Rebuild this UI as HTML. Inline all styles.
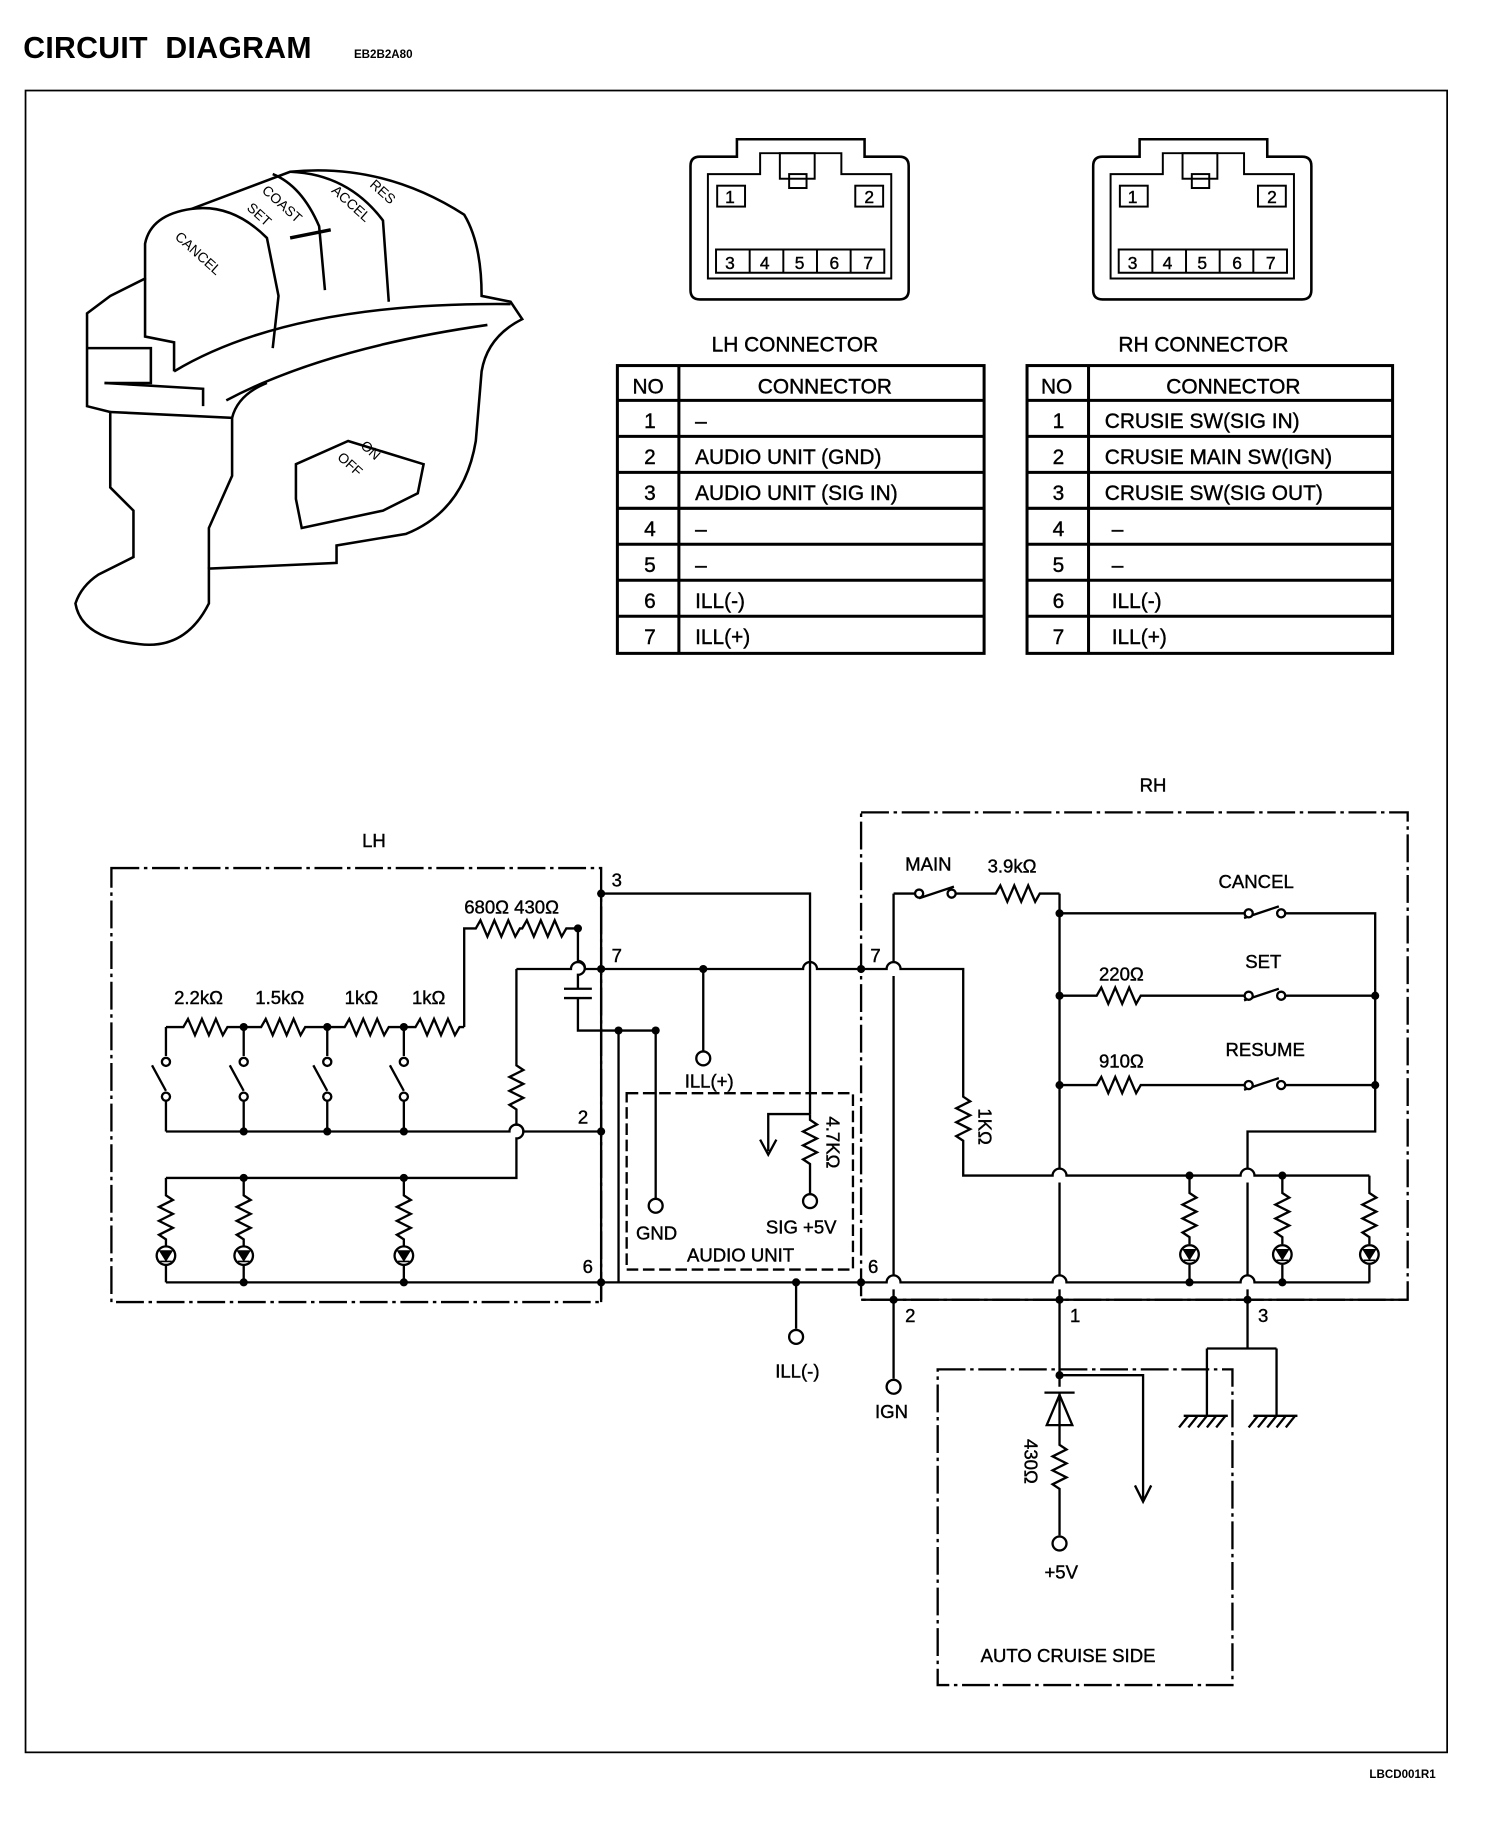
<!DOCTYPE html>
<html><head><meta charset="utf-8"><style>
html,body{margin:0;padding:0;background:#fff}
svg{display:block}
text{font-family:"Liberation Sans",Arial,sans-serif;fill:#000}
.t text{stroke:#000;stroke-width:0.35}
</style></head><body>
<svg width="1504" height="1822" viewBox="0 0 1296 1570" xmlns="http://www.w3.org/2000/svg">
<rect width="1300" height="1575" fill="#fff"/>
<text x="20" y="50" font-size="26" font-weight="bold" xml:space="preserve" letter-spacing="0.3">CIRCUIT  DIAGRAM</text>
<text x="305" y="50" font-size="10" font-weight="bold">EB2B2A80</text>
<text x="1180" y="1532" font-size="10" font-weight="bold">LBCD001R1</text>
<rect x="22" y="78" width="1225" height="1432" fill="none" stroke="#000" stroke-width="1.5"/>

<g fill="none" stroke="#000" stroke-width="2.2">
<g id="conn">
<path d="M603,135 H635 V120 H745 V135 H775 Q783,135 783,143 V250 Q783,258 775,258 H603 Q595,258 595,250 V143 Q595,135 603,135 Z"/>
<path d="M610,150 H655 V132 H725 V150 H768 V240 H610 Z" stroke-width="1.7"/>
<rect x="672" y="132" width="30" height="22" stroke-width="1.7"/>
<rect x="680" y="150" width="15" height="12" stroke-width="1.7"/>
<rect x="618" y="160" width="24" height="18" stroke-width="1.7"/>
<rect x="737" y="160" width="24" height="18" stroke-width="1.7"/>
<path d="M617,215 H762 V235 H617 Z M646,215 V235 M675,215 V235 M704,215 V235 M733,215 V235" stroke-width="1.7"/>
</g>
<use href="#conn" x="347"/>
</g>
<g font-size="15" text-anchor="middle" class="t">
<text x="629" y="175">1</text><text x="749" y="175">2</text>
<text x="629" y="232">3</text><text x="659" y="232">4</text><text x="689" y="232">5</text><text x="719" y="232">6</text><text x="748" y="232">7</text>
<text x="976" y="175">1</text><text x="1096" y="175">2</text>
<text x="976" y="232">3</text><text x="1006" y="232">4</text><text x="1036" y="232">5</text><text x="1066" y="232">6</text><text x="1095" y="232">7</text>
</g>

<g font-size="18" text-anchor="middle" class="t">
<text x="685" y="303">LH CONNECTOR</text>
<text x="1037" y="303">RH CONNECTOR</text>
</g>
<g fill="none" stroke="#000" stroke-width="2.6">
<rect x="532" y="315" width="316" height="248"/>
<path d="M585,315 V563 M532,345 H848 M532,376 H848 M532,407 H848 M532,438 H848 M532,469 H848 M532,500 H848 M532,531 H848"/>
<rect x="885" y="315" width="315" height="248"/>
<path d="M938,315 V563 M885,345 H1200 M885,376 H1200 M885,407 H1200 M885,438 H1200 M885,469 H1200 M885,500 H1200 M885,531 H1200"/>
</g>
<g font-size="18" class="t">
<text x="545" y="339">NO</text><text x="653" y="339">CONNECTOR</text>
<text x="555" y="369">1</text><text x="599" y="369">–</text>
<text x="555" y="400">2</text><text x="599" y="400">AUDIO UNIT (GND)</text>
<text x="555" y="431">3</text><text x="599" y="431">AUDIO UNIT (SIG IN)</text>
<text x="555" y="462">4</text><text x="599" y="462">–</text>
<text x="555" y="493">5</text><text x="599" y="493">–</text>
<text x="555" y="524">6</text><text x="599" y="524">ILL(-)</text>
<text x="555" y="555">7</text><text x="599" y="555">ILL(+)</text>
<text x="897" y="339">NO</text><text x="1005" y="339">CONNECTOR</text>
<text x="907" y="369">1</text><text x="952" y="369">CRUSIE SW(SIG IN)</text>
<text x="907" y="400">2</text><text x="952" y="400">CRUSIE MAIN SW(IGN)</text>
<text x="907" y="431">3</text><text x="952" y="431">CRUSIE SW(SIG OUT)</text>
<text x="907" y="462">4</text><text x="958" y="462">–</text>
<text x="907" y="493">5</text><text x="958" y="493">–</text>
<text x="907" y="524">6</text><text x="958" y="524">ILL(-)</text>
<text x="907" y="555">7</text><text x="958" y="555">ILL(+)</text>
</g>

<g fill="none" stroke="#000" stroke-width="2.2">
<path d="M125,210 Q130,185 165,180 L250,148 Q330,140 400,185 Q415,210 415,255 L440,260 L450,275 Q420,290 415,320 L410,380 Q400,440 350,460 L290,470 L290,485 L180,490 L180,520 Q160,560 120,555 Q70,550 65,520 Q70,505 85,495 L115,480 L115,440 L95,420 L95,355 L75,350 L75,270 L95,255 L125,240 Z"/>
<path d="M165,180 Q200,175 230,205 L240,255 L235,300"/>
<path d="M235,150 Q260,160 275,195 L280,250"/>
<path d="M250,148 Q300,150 330,190 L335,260"/>
<path d="M125,240 L125,290 L150,295 L150,320"/>
<path d="M150,320 Q250,260 440,262"/>
<path d="M195,345 Q280,300 420,280"/>
<path d="M95,355 L200,360 L200,410 L180,455 L180,490"/>
<path d="M200,360 Q205,340 230,330"/>
<path d="M255,400 L300,380 L365,400 L360,425 L330,440 L260,455 L255,430 Z"/>
<path d="M250,205 L285,198" stroke-width="3"/>
<path d="M75,300 L130,300 L130,330 L90,330"/>
<path d="M90,330 L175,335 L175,350"/>
</g>
<g font-size="12">
<text transform="translate(150,205) rotate(42)">CANCEL</text>
<text transform="translate(212,180) rotate(42)">SET</text>
<text transform="translate(225,165) rotate(42)">COAST</text>
<text transform="translate(285,165) rotate(42)">ACCEL</text>
<text transform="translate(318,160) rotate(42)">RES</text>
<text transform="translate(290,395) rotate(42)">OFF</text>
<text transform="translate(310,385) rotate(42)">ON</text>
</g>

<g fill="none" stroke="#000" stroke-width="2">
<rect x="96" y="748" width="422" height="374" stroke-dasharray="24,4,3,4"/>
<rect x="742" y="700" width="471" height="420" stroke-dasharray="24,4,3,4"/>
<rect x="540" y="942" width="195" height="152" stroke-dasharray="10,4"/>
<rect x="808" y="1180" width="254" height="272" stroke-dasharray="24,4,3,4"/>

<path d="M518,770 V1122"/>
<path d="M518,770 H698 V960"/>
<path d="M698,960 V965 l6,4 -12,6 12,6 -12,6 12,6 -12,6 6,4 V1030"/>
<path d="M698,960 H662 V992 M655,982 L662,995 L669,982"/>
<path d="M400,885 V800 H410 l4,-7 6,14 6,-14 6,14 6,-14 6,14 4,-7 H450 l4,-7 6,14 6,-14 6,14 6,-14 6,14 4,-7 H498"/>
<path d="M498,800 V828 a6,6 0 0 1 0,12 V852 M486,852 H510 M486,860 H510 M498,860 V888 H565 V1033"/>
<path d="M533,888 V1105"/>
<path d="M445,835 H492 a6,6 0 0 1 12,0 H692 a6,6 0 0 1 12,0 H742"/>
<path d="M606,835 V906"/>
<path d="M445,835 V918 l6,4 -12,6 12,6 -12,6 12,6 -12,6 6,4 V969 a6,6 0 0 1 0,12 V1015 H143"/>
<path d="M143,885 H158 l4,-7 6,14 6,-14 6,14 6,-14 6,14 4,-7 H225 l4,-7 6,14 6,-14 6,14 6,-14 6,14 4,-7 H297 l4,-7 6,14 6,-14 6,14 6,-14 6,14 4,-7 H358 l4,-7 6,14 6,-14 6,14 6,-14 6,14 4,-7 H400"/>
<path d="M143,885 V910 M143,945 V975 M131,918 L143,940 M210,885 V910 M210,945 V975 M198,918 L210,940 M282,885 V910 M282,945 V975 M270,918 L282,940 M348,885 V910 M348,945 V975 M336,918 L348,940"/>
<path d="M143,975 H439 a6,6 0 0 1 12,0 H518"/>
<path d="M143,1015 V1030 l6,4 -12,6 12,6 -12,6 12,6 -12,6 6,4 V1074 M143,1090 V1105"/>
<path d="M210,1015 V1030 l6,4 -12,6 12,6 -12,6 12,6 -12,6 6,4 V1074 M210,1090 V1105"/>
<path d="M348,1015 V1030 l6,4 -12,6 12,6 -12,6 12,6 -12,6 6,4 V1074 M348,1090 V1105"/>
<path d="M143,1105 H742"/>
<path d="M686,1105 V1145"/>

<path d="M742,835 H764 a6,6 0 0 1 12,0 H830 V945 l6,4 -12,6 12,6 -12,6 12,6 -12,6 6,4 V1013 H907 a6,6 0 0 1 12,0 H1069 a6,6 0 0 1 12,0 H1180"/>
<path d="M770,770 V829 M770,841 V1099 M770,1111 V1188"/>
<path d="M770,770 H790 M820,770 H835 M792,774 L822,764 M835,770 H858 l4,-7 6,14 6,-14 6,14 6,-14 6,14 4,-7 H913"/>
<path d="M913,770 V1007 M913,1019 V1099 M913,1111 V1195"/>
<path d="M913,787 H1072 M1072,791 L1102,781 M1104,787 H1185 V975 H1075 V1007 M1075,1019 V1099 M1075,1111 V1162"/>
<path d="M913,858 H945 l4,-7 6,14 6,-14 6,14 6,-14 6,14 4,-7 H1072 M1072,862 L1102,852 M1104,858 H1185"/>
<path d="M913,935 H945 l4,-7 6,14 6,-14 6,14 6,-14 6,14 4,-7 H1072 M1072,939 L1102,929 M1104,935 H1185"/>
<path d="M1025,1013 V1028 l6,4 -12,6 12,6 -12,6 12,6 -12,6 6,4 V1072 M1025,1090 V1105"/>
<path d="M1105,1013 V1028 l6,4 -12,6 12,6 -12,6 12,6 -12,6 6,4 V1072 M1105,1090 V1105"/>
<path d="M1180,1013 V1028 l6,4 -12,6 12,6 -12,6 12,6 -12,6 6,4 V1072 M1180,1090 V1105"/>
<path d="M742,1105 H764 a6,6 0 0 1 12,0 H907 a6,6 0 0 1 12,0 H1069 a6,6 0 0 1 12,0 H1180"/>
<path d="M742,1120 H1213"/>
<path d="M1040,1162 H1100 M1040,1162 V1220 M1100,1162 V1220"/>
<path d="M1020,1220 H1058 M1080,1220 H1118 M1024,1220 l-8,10 M1032,1220 l-8,10 M1040,1220 l-8,10 M1048,1220 l-8,10 M1056,1220 l-8,10 M1084,1220 l-8,10 M1092,1220 l-8,10 M1100,1220 l-8,10 M1108,1220 l-8,10 M1116,1220 l-8,10"/>
<path d="M913,1185 H985 V1292 M978,1280 L985,1294 L992,1280"/>
<path d="M900,1200 H926 M913,1200 V1245 l6,4 -12,6 12,6 -12,6 12,6 -12,6 6,4 V1323"/>
</g>
<path d="M913,1202 L902,1228 H924 Z" fill="none" stroke="#000" stroke-width="2"/>
<g fill="none" stroke="#000" stroke-width="2">
<circle cx="143" cy="1082" r="8"/><circle cx="210" cy="1082" r="8"/><circle cx="348" cy="1082" r="8"/>
<circle cx="1025" cy="1081" r="8"/><circle cx="1105" cy="1081" r="8"/><circle cx="1180" cy="1081" r="8"/>
</g>
<g stroke="#000" stroke-width="1.4" fill="#000">
<path d="M138,1078 H148 L143,1086 Z M138,1087 H148 M205,1078 H215 L210,1086 Z M205,1087 H215 M343,1078 H353 L348,1086 Z M343,1087 H353 M1020,1077 H1030 L1025,1085 Z M1020,1086 H1030 M1100,1077 H1110 L1105,1085 Z M1100,1086 H1110 M1175,1077 H1185 L1180,1085 Z M1175,1086 H1185"/>
</g>
<g fill="#fff" stroke="#000" stroke-width="2">
<circle cx="565" cy="1039" r="6"/><circle cx="606" cy="912" r="6"/><circle cx="698" cy="1035" r="6"/>
<circle cx="686" cy="1152" r="6"/><circle cx="770" cy="1195" r="6"/><circle cx="913" cy="1330" r="6"/>
<circle cx="143" cy="915" r="3.5"/><circle cx="143" cy="945" r="3.5"/>
<circle cx="210" cy="915" r="3.5"/><circle cx="210" cy="945" r="3.5"/>
<circle cx="282" cy="915" r="3.5"/><circle cx="282" cy="945" r="3.5"/>
<circle cx="348" cy="915" r="3.5"/><circle cx="348" cy="945" r="3.5"/>
<circle cx="792" cy="770" r="3.5"/><circle cx="820" cy="770" r="3.5"/>
<circle cx="1076" cy="787" r="3.5"/><circle cx="1104" cy="787" r="3.5"/>
<circle cx="1076" cy="858" r="3.5"/><circle cx="1104" cy="858" r="3.5"/>
<circle cx="1076" cy="935" r="3.5"/><circle cx="1104" cy="935" r="3.5"/>
</g>
<g fill="#000">
<circle cx="518" cy="770" r="3.5"/><circle cx="498" cy="800" r="3.5"/><circle cx="518" cy="835" r="3.5"/>
<circle cx="533" cy="888" r="3.5"/><circle cx="565" cy="888" r="3.5"/><circle cx="606" cy="835" r="3.5"/>
<circle cx="210" cy="885" r="3.5"/><circle cx="282" cy="885" r="3.5"/><circle cx="348" cy="885" r="3.5"/>
<circle cx="210" cy="975" r="3.5"/><circle cx="282" cy="975" r="3.5"/><circle cx="348" cy="975" r="3.5"/><circle cx="518" cy="975" r="3.5"/>
<circle cx="210" cy="1015" r="3.5"/><circle cx="348" cy="1015" r="3.5"/>
<circle cx="210" cy="1105" r="3.5"/><circle cx="348" cy="1105" r="3.5"/><circle cx="518" cy="1105" r="3.5"/><circle cx="686" cy="1105" r="3.5"/>
<circle cx="742" cy="835" r="3.5"/><circle cx="742" cy="1105" r="3.5"/>
<circle cx="913" cy="787" r="3.5"/><circle cx="913" cy="858" r="3.5"/><circle cx="913" cy="935" r="3.5"/>
<circle cx="1185" cy="858" r="3.5"/><circle cx="1185" cy="935" r="3.5"/>
<circle cx="1025" cy="1013" r="3.5"/><circle cx="1105" cy="1013" r="3.5"/>
<circle cx="1025" cy="1105" r="3.5"/><circle cx="1105" cy="1105" r="3.5"/>
<circle cx="770" cy="1120" r="3.5"/><circle cx="913" cy="1120" r="3.5"/><circle cx="1075" cy="1120" r="3.5"/>
<circle cx="913" cy="1185" r="3.5"/>
</g>
<g font-size="16" class="t">
<text x="312" y="730">LH</text><text x="982" y="682">RH</text>
<text x="527" y="764">3</text><text x="527" y="829">7</text><text x="498" y="968">2</text><text x="502" y="1097">6</text>
<text x="400" y="787">680Ω 430Ω</text>
<text x="150" y="865">2.2kΩ</text><text x="220" y="865">1.5kΩ</text><text x="297" y="865">1kΩ</text><text x="355" y="865">1kΩ</text>
<text x="590" y="937">ILL(+)</text>
<text x="548" y="1068">GND</text><text x="660" y="1063">SIG +5V</text><text x="592" y="1087">AUDIO UNIT</text>
<text x="668" y="1187">ILL(-)</text>
<text x="750" y="829">7</text><text x="748" y="1097">6</text>
<text x="780" y="1139">2</text><text x="922" y="1139">1</text><text x="1084" y="1139">3</text>
<text x="754" y="1222">IGN</text>
<text x="780" y="750">MAIN</text><text x="851" y="752">3.9kΩ</text>
<text x="1050" y="765">CANCEL</text><text x="1073" y="834">SET</text><text x="947" y="845">220Ω</text>
<text x="1056" y="910">RESUME</text><text x="947" y="920">910Ω</text>
<text x="900" y="1360">+5V</text>
<text x="845" y="1432">AUTO CRUISE SIDE</text>
<text transform="translate(843,955) rotate(90)">1KΩ</text>
<text transform="translate(712,962) rotate(90)">4.7KΩ</text>
<text transform="translate(883,1240) rotate(90)">430Ω</text>
</g>
</svg>
</body></html>
